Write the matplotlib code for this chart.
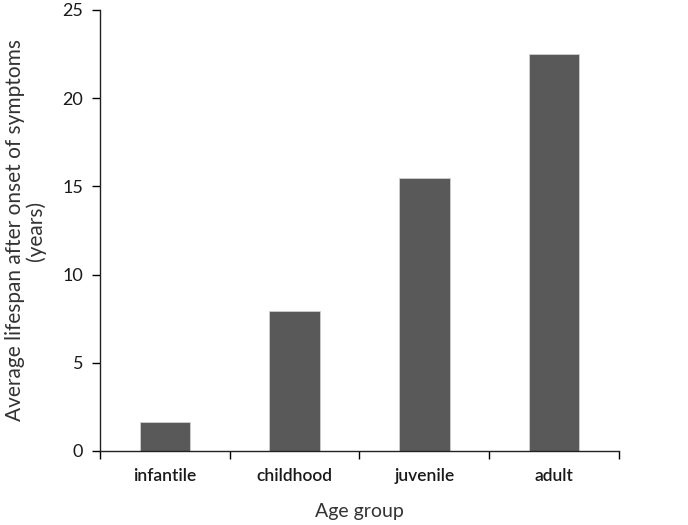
import matplotlib
matplotlib.use("Agg")
import matplotlib.pyplot as plt
import numpy as np

# values
categories = ["infantile", "childhood", "juvenile", "adult"]
lifespan = [1.64, 7.94, 15.5, 22.5]
y_ticks = [0, 5, 10, 15, 20, 25]

plt.rcParams['font.family'] = ['Lato', 'DejaVu Sans']

fig = plt.figure(figsize=(6.88, 5.25), dpi=100)
ax = fig.add_axes([0.1453, 0.141, 0.7544, 0.840])

x = np.arange(len(categories))
ax.bar(x, lifespan, width=0.39, color='#595959', edgecolor='#d0d0d0', linewidth=0.6)

ax.set_xlim(-0.5, len(categories) - 0.5)
ax.set_ylim(0, 25)
ax.set_yticks(y_ticks)
ax.set_yticklabels([str(t) for t in y_ticks], fontsize=13, color='#1a1a1a')

# x ticks sit between categories, labels centred under bars
ax.set_xticks(np.arange(-0.5, len(categories), 1.0))
ax.set_xticklabels([])
ax.set_xticks(x, minor=True)
ax.set_xticklabels(categories, minor=True, fontsize=12.5, fontweight='semibold', color='#1a1a1a')
ax.tick_params(axis='x', which='minor', length=0, pad=12)
ax.tick_params(axis='x', which='major', length=6, direction='out', width=1)
ax.tick_params(axis='y', length=6, direction='out', width=1, pad=6)

for side in ['top', 'right']:
    ax.spines[side].set_visible(False)
for side in ['left', 'bottom']:
    ax.spines[side].set_linewidth(1)
    ax.spines[side].set_color('#222222')

ax.set_xlabel("Age group", fontsize=14, color='#333333', labelpad=14)
ax.set_ylabel("Average lifespan after onset of symptoms\n(years)", fontsize=15,
              color='#333333', labelpad=12, linespacing=1.0)

fig.savefig("out.png", dpi=100)
